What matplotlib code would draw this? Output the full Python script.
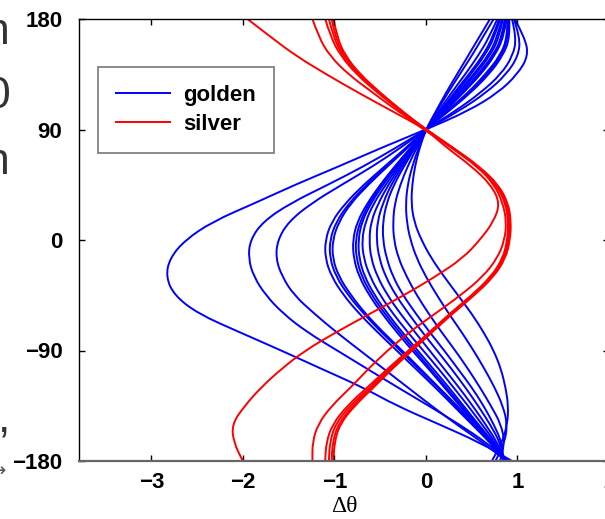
import numpy as np
import matplotlib
matplotlib.use("Agg")
import matplotlib.pyplot as plt
from matplotlib.path import Path
from matplotlib.patches import PathPatch
from matplotlib.lines import Line2D

plt.rcParams['font.family'] = ['Liberation Sans', 'DejaVu Sans']

# theta grid (deg), from top to bottom
theta = [180, 165, 150, 135, 120, 105, 90, 75, 60, 45, 30, 15, 0,
         -15, -30, -45, -60, -75, -90, -105, -120, -135, -150, -165, -180]

# golden (blue) curves: delta-theta at each theta
golden = [
    [0.97, 1.08, 1.12, 1.00, 0.79, 0.46, 0, -0.49, -0.95, -1.43, -1.87, -2.33, -2.63, -2.80, -2.84, -2.75, -2.49, -2.04, -1.58, -1.14, -0.69, -0.32, 0.14, 0.59, 0.94],
    [0.96, 1.03, 1.01, 0.88, 0.66, 0.36, 0, -0.33, -0.68, -1.07, -1.48, -1.78, -1.92, -1.94, -1.88, -1.75, -1.56, -1.30, -0.97, -0.64, -0.31, 0.03, 0.36, 0.66, 0.90],
    [0.94, 0.99, 0.95, 0.82, 0.60, 0.32, 0, -0.28, -0.58, -0.92, -1.25, -1.50, -1.62, -1.64, -1.57, -1.44, -1.22, -0.98, -0.72, -0.46, -0.20, 0.06, 0.33, 0.62, 0.88],
    [0.91, 0.92, 0.84, 0.69, 0.49, 0.25, 0, -0.22, -0.45, -0.68, -0.88, -1.03, -1.10, -1.10, -1.03, -0.90, -0.73, -0.53, -0.32, -0.11, 0.10, 0.30, 0.50, 0.70, 0.87],
    [0.90, 0.90, 0.82, 0.67, 0.47, 0.24, 0, -0.21, -0.43, -0.65, -0.84, -0.98, -1.05, -1.05, -0.98, -0.85, -0.68, -0.49, -0.28, -0.08, 0.13, 0.32, 0.52, 0.71, 0.87],
    [0.89, 0.89, 0.81, 0.65, 0.46, 0.23, 0, -0.20, -0.42, -0.63, -0.82, -0.95, -1.02, -1.02, -0.95, -0.82, -0.66, -0.47, -0.26, -0.06, 0.14, 0.34, 0.53, 0.72, 0.87],
    [0.88, 0.85, 0.75, 0.60, 0.41, 0.21, 0, -0.17, -0.34, -0.50, -0.64, -0.75, -0.80, -0.79, -0.73, -0.62, -0.48, -0.32, -0.15, 0.03, 0.20, 0.37, 0.54, 0.72, 0.87],
    [0.87, 0.84, 0.74, 0.58, 0.40, 0.20, 0, -0.16, -0.33, -0.49, -0.62, -0.72, -0.77, -0.76, -0.70, -0.59, -0.45, -0.29, -0.12, 0.05, 0.22, 0.39, 0.56, 0.73, 0.87],
    [0.86, 0.83, 0.73, 0.57, 0.39, 0.20, 0, -0.16, -0.32, -0.47, -0.60, -0.70, -0.74, -0.73, -0.67, -0.56, -0.42, -0.26, -0.09, 0.08, 0.25, 0.41, 0.57, 0.74, 0.87],
    [0.84, 0.80, 0.70, 0.54, 0.37, 0.19, 0, -0.15, -0.30, -0.44, -0.57, -0.66, -0.70, -0.68, -0.61, -0.50, -0.36, -0.20, -0.03, 0.14, 0.30, 0.46, 0.61, 0.76, 0.86],
    [0.83, 0.78, 0.68, 0.52, 0.35, 0.18, 0, -0.14, -0.28, -0.41, -0.52, -0.60, -0.62, -0.60, -0.53, -0.42, -0.28, -0.12, 0.04, 0.20, 0.36, 0.51, 0.65, 0.78, 0.86],
    [0.81, 0.75, 0.64, 0.49, 0.33, 0.17, 0, -0.13, -0.26, -0.38, -0.47, -0.53, -0.54, -0.51, -0.44, -0.33, -0.19, -0.04, 0.12, 0.28, 0.43, 0.57, 0.70, 0.81, 0.86],
    [0.80, 0.73, 0.62, 0.47, 0.31, 0.16, 0, -0.12, -0.24, -0.35, -0.43, -0.47, -0.47, -0.43, -0.36, -0.25, -0.11, 0.04, 0.20, 0.35, 0.50, 0.63, 0.74, 0.83, 0.84],
    [0.78, 0.69, 0.57, 0.43, 0.28, 0.14, 0, -0.10, -0.20, -0.28, -0.34, -0.36, -0.35, -0.30, -0.21, -0.10, 0.03, 0.17, 0.32, 0.46, 0.59, 0.71, 0.82, 0.86, 0.81],
    [0.74, 0.62, 0.50, 0.37, 0.24, 0.12, 0, -0.08, -0.15, -0.20, -0.22, -0.21, -0.17, -0.10, 0.00, 0.12, 0.25, 0.39, 0.52, 0.64, 0.75, 0.84, 0.89, 0.86, 0.76],
    [0.70, 0.58, 0.46, 0.34, 0.22, 0.11, 0, -0.07, -0.12, -0.15, -0.16, -0.13, -0.05, 0.06, 0.20, 0.35, 0.50, 0.63, 0.74, 0.82, 0.87, 0.90, 0.89, 0.83, 0.72],
]

# silver (red) curves
silver = [
    [-1.95, -1.69, -1.42, -1.09, -0.74, -0.37, 0, 0.23, 0.50, 0.71, 0.81, 0.74, 0.59, 0.40, 0.10, -0.24, -0.61, -0.98, -1.32, -1.58, -1.80, -1.98, -2.12, -2.10, -2.00],
    [-1.24, -1.17, -1.05, -0.85, -0.58, -0.31, 0, 0.28, 0.56, 0.75, 0.84, 0.88, 0.86, 0.78, 0.62, 0.38, 0.10, -0.18, -0.42, -0.63, -0.82, -1.03, -1.18, -1.24, -1.24],
    [-1.10, -1.04, -0.93, -0.76, -0.53, -0.28, 0, 0.29, 0.57, 0.77, 0.87, 0.90, 0.89, 0.84, 0.71, 0.50, 0.26, 0.04, -0.19, -0.42, -0.64, -0.86, -1.02, -1.09, -1.10],
    [-1.06, -1.01, -0.91, -0.74, -0.52, -0.27, 0, 0.29, 0.57, 0.78, 0.88, 0.91, 0.90, 0.85, 0.72, 0.51, 0.27, 0.05, -0.17, -0.40, -0.61, -0.83, -0.99, -1.05, -1.06],
    [-1.03, -0.99, -0.89, -0.73, -0.51, -0.27, 0, 0.30, 0.58, 0.79, 0.89, 0.92, 0.91, 0.86, 0.73, 0.52, 0.28, 0.06, -0.16, -0.38, -0.59, -0.80, -0.96, -1.02, -1.03],
    [-1.01, -0.97, -0.88, -0.72, -0.50, -0.26, 0, 0.30, 0.58, 0.79, 0.90, 0.93, 0.92, 0.87, 0.74, 0.53, 0.29, 0.07, -0.15, -0.37, -0.57, -0.78, -0.94, -1.00, -1.01],
]

xticks = [-3, -2, -1, 0, 1, 2]
yticks = [-180, -90, 0, 90, 180]


def smooth_patch(xs, ys, color):
    pts = np.column_stack([xs, ys])
    verts = [pts[0]]
    codes = [Path.MOVETO]
    for i in range(1, len(pts) - 1):
        verts += [pts[i], (pts[i] + pts[i + 1]) / 2]
        codes += [Path.CURVE3, Path.CURVE3]
    verts.append(pts[-1])
    codes.append(Path.LINETO)
    return PathPatch(Path(verts, codes), facecolor='none', edgecolor=color, lw=1.4)


fig = plt.figure(figsize=(6.05, 5.19), dpi=100)
ax = fig.add_axes([79 / 605, 1 - 461 / 519, (609 - 79) / 605, (461 - 19) / 519])

for xs in golden:
    ax.add_patch(smooth_patch(xs, theta, '#0000ff'))
for xs in silver:
    ax.add_patch(smooth_patch(xs, theta, '#ff0000'))

ax.set_xlim(-3.79, 2.0)
ax.set_ylim(-180, 180)
ax.set_xticks(xticks)
ax.set_yticks(yticks)
ax.set_xticklabels([('\u2212%d' % -t) if t < 0 else str(t) for t in xticks])
ax.set_yticklabels([('\u2212%d' % -t) if t < 0 else str(t) for t in yticks])
ax.tick_params(direction='in', length=4, width=1, top=True, right=True,
               labelsize=16, color='black')
ax.tick_params(axis='x', pad=8)
ax.tick_params(axis='y', pad=12)
for lab in ax.get_xticklabels() + ax.get_yticklabels():
    lab.set_fontweight('bold')
for s in ['left', 'top', 'right']:
    ax.spines[s].set_color('black')
    ax.spines[s].set_linewidth(1)
ax.spines['bottom'].set_color('#666666')
ax.spines['bottom'].set_linewidth(1.6)

ax.set_xlabel('\u0394\u03b8', fontfamily='Liberation Serif', fontsize=17, labelpad=2)

handles = [Line2D([], [], color='#0000ff', lw=1.4), Line2D([], [], color='#ff0000', lw=1.4)]
leg = fig.legend(handles, ['golden', 'silver'], loc='upper left',
                 bbox_to_anchor=(98 / 605, 1 - 67 / 519), frameon=True, fancybox=False,
                 prop={'weight': 'bold', 'size': 16}, handlelength=2.45, handletextpad=0.6,
                 labelspacing=0.38, borderpad=0.8, borderaxespad=0)
leg.get_frame().set_edgecolor('#555555')
leg.get_frame().set_linewidth(1.2)

# partial text from neighbouring panel on the far left
for ch, yc in [('n', 33), ('0', 97), ('n', 163), (',', 420)]:
    fig.text(10 / 605, 1 - yc / 519, ch, ha='right', va='center', fontsize=32,
             color='#333333', fontfamily='Liberation Sans')
fig.text(6 / 605, 1 - 471 / 519, '\u2192', ha='right', va='center', fontsize=14,
         color='#555555', fontfamily='DejaVu Sans')

fig.savefig('out.png', dpi=100)
